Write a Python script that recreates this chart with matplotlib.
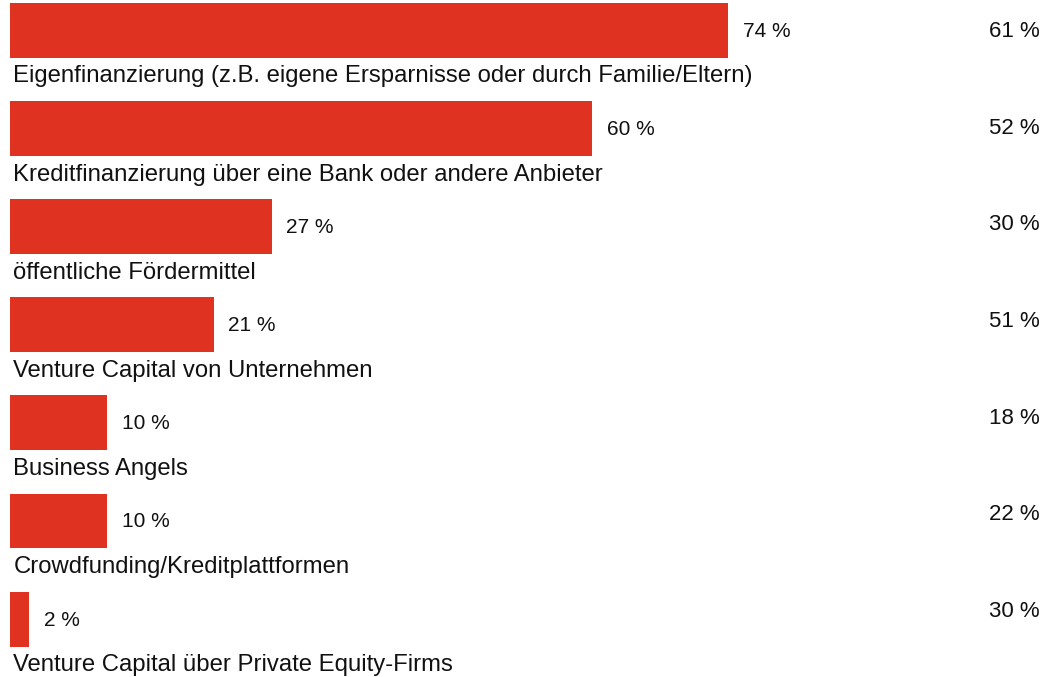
import matplotlib
matplotlib.use("Agg")
import matplotlib.pyplot as plt

categories = [
    "Eigenfinanzierung (z.B. eigene Ersparnisse oder durch Familie/Eltern)",
    "Kreditfinanzierung über eine Bank oder andere Anbieter",
    "öffentliche Fördermittel",
    "Venture Capital von Unternehmen",
    "Business Angels",
    "Crowdfunding/Kreditplattformen",
    "Venture Capital über Private Equity-Firms",
]
bar_values = [74, 60, 27, 21, 10, 10, 2]
right_values = [61, 52, 30, 51, 18, 22, 30]

plt.rcParams['font.family'] = ['Liberation Sans', 'DejaVu Sans']

W, H = 1056, 677
fig = plt.figure(figsize=(W / 100, H / 100), dpi=100)
ax = fig.add_axes([0, 0, 1, 1])

px_per_unit = 9.703
x0_px = 10
ax.set_xlim(-x0_px / px_per_unit, (W - x0_px) / px_per_unit)
row_px = 98.1
y0_px = 30.5
ax.set_ylim((H - y0_px) / row_px, -y0_px / row_px)
ax.axis('off')

color = '#E03221'
ys = list(range(len(categories)))
ax.barh(ys, bar_values, height=0.56, color=color, edgecolor='none')

for i, (cat, v, r) in enumerate(zip(categories, bar_values, right_values)):
    ax.text(v + 14.5 / px_per_unit, i + 0.01, f"{v} %", ha='left', va='center',
            fontsize=15, color='#111111')
    ax.text(3.5 / px_per_unit, i + 0.53, cat, ha='left', va='baseline',
            fontsize=17.2, color='#111111')
    # right column values (evenly spaced in pixel space)
    ypx = 31.5 + 96.67 * i
    ax.text(1039.5 / W, 1 - ypx / H, f"{r} %", ha='right', va='center',
            fontsize=16, color='#111111', transform=fig.transFigure)

fig.savefig("out.png", dpi=100)
